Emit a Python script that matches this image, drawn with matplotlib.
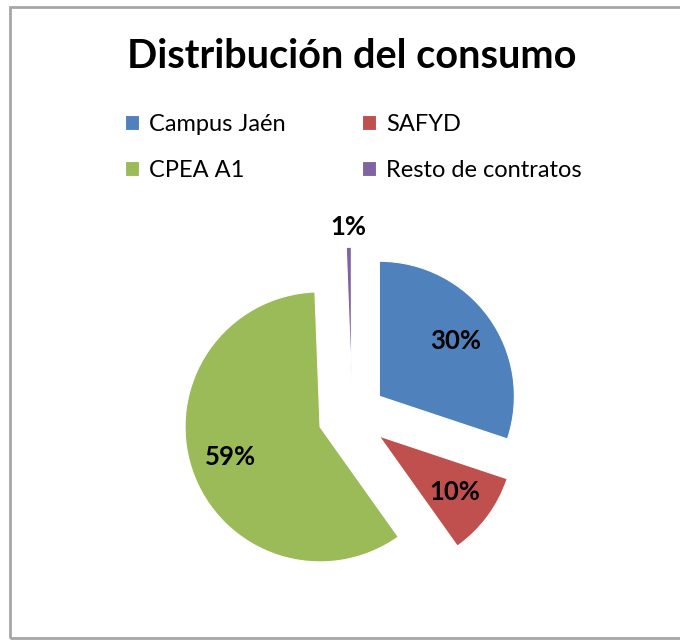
import matplotlib
matplotlib.use("Agg")
import matplotlib.pyplot as plt
import matplotlib.patches as mpatches
import numpy as np

plt.rcParams["font.family"] = ["Lato", "DejaVu Sans"]

labels = ["Campus Jaén", "SAFYD", "CPEA A1", "Resto de contratos"]
values = [30, 10, 59, 0.6]
colors = ["#4F81BD", "#C0504D", "#9BBB59", "#8064A2"]

W, H = 680, 640
fig = plt.figure(figsize=(W / 100, H / 100), dpi=100)

# grey frame round the chart area
frame = mpatches.Rectangle((10 / W, 2 / H), 700 / W, 631 / H,
                           transform=fig.transFigure, fill=False,
                           edgecolor="#a6a6a6", linewidth=2)
fig.patches.append(frame)

fig.text(352 / W, 1 - 56 / H, "Distribución del consumo",
         ha="center", va="center", fontsize=28.5, fontweight="bold")

# pie: centre at (352, 416) px, radius 135 px
size = 405
ax = fig.add_axes([(352 - size / 2) / W, (H - 416 - size / 2) / H,
                   size / W, size / H])
wedges, texts, autotexts = ax.pie(
    values, colors=colors, startangle=90, counterclock=False,
    explode=[0.25] * 4, autopct="%1.0f%%", pctdistance=0.7,
    wedgeprops=dict(edgecolor="white", linewidth=0.8),
    textprops=dict(fontsize=18.5, fontweight="bold"))
ax.set_xlim(-1.5, 1.5)
ax.set_ylim(-1.5, 1.5)
ax.set_aspect("equal")
ax.axis("off")

# the tiny slice gets its label outside
w = wedges[3]
mid = np.deg2rad((w.theta1 + w.theta2) / 2)
cx, cy = w.center
autotexts[3].set_position((cx + 1.15 * np.cos(mid), cy + 1.15 * np.sin(mid)))

# legend filled row by row: Campus/SAFYD, then CPEA/Resto
order = [0, 2, 1, 3]
fig.legend([wedges[i] for i in order], [labels[i] for i in order],
           ncol=2, loc="upper left",
           bbox_to_anchor=(104 / W, 1 - 93 / H), frameon=False,
           fontsize=17, handlelength=0.6, handleheight=0.6,
           handletextpad=0.4, columnspacing=3.25, labelspacing=1.05)

fig.savefig("out.png", dpi=100)
